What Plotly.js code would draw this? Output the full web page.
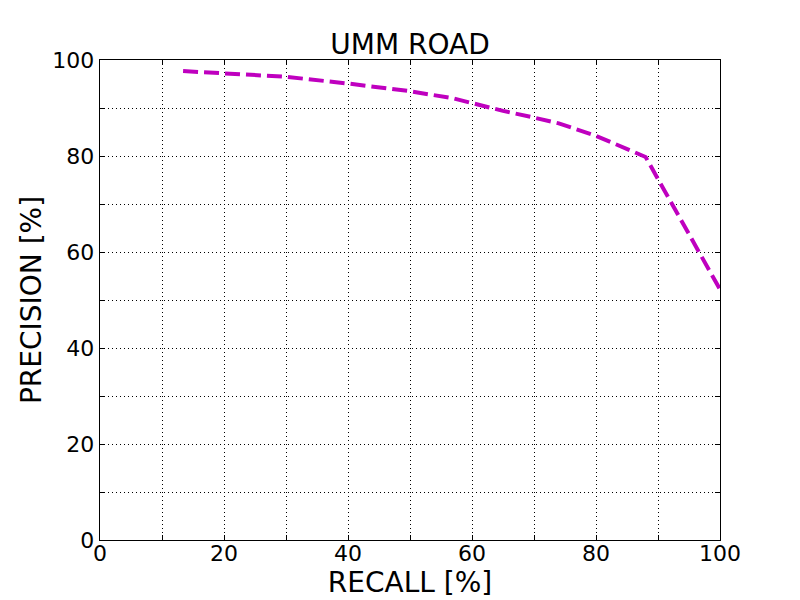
<!DOCTYPE html>
<html>
<head>
<meta charset="utf-8">
<script src="https://cdn.plot.ly/plotly-3.0.1.min.js"></script>
<style>html,body{margin:0;padding:0;background:#fff;}#chart{width:800px;height:600px;}</style>
</head>
<body>
<div id="chart"></div>
<script>
const recall = [13.4, 20, 30, 40, 50, 57, 60, 65, 70, 74, 80, 83, 88, 100];
const precision = [97.7, 97.3, 96.5, 95.1, 93.5, 92.0, 91.0, 89.4, 88.0, 86.8, 84.2, 82.6, 79.8, 52.2];
const tickVals = [0, 10, 20, 30, 40, 50, 60, 70, 80, 90, 100];
const tickText = ["0", "", "20", "", "40", "", "60", "", "80", "", "100"];

const font = {family: "DejaVu Sans, sans-serif", color: "#000"};
const axisCommon = {
  range: [0, 100],
  tickmode: "array",
  tickvals: tickVals,
  ticktext: tickText,
  ticks: "inside",
  ticklen: 5,
  tickcolor: "#000",
  showline: true,
  linecolor: "#000",
  linewidth: 1.3,
  mirror: "ticks",
  showgrid: true,
  gridcolor: "#000",
  gridwidth: 1,
  griddash: "1px,3px",
  zeroline: false,
  tickfont: {family: font.family, size: 22, color: "#000"}
};

Plotly.newPlot("chart", [{
  x: recall,
  y: precision,
  mode: "lines",
  line: {color: "#bf00bf", width: 4, dash: "15px,6px"},
  hoverinfo: "skip"
}], {
  width: 800,
  height: 600,
  margin: {l: 100, r: 80, t: 60, b: 60},
  paper_bgcolor: "#fff",
  plot_bgcolor: "#fff",
  showlegend: false,
  title: {text: "UMM ROAD", font: {family: font.family, size: 28, color: "#000"}, x: 0.5125, xanchor: "center", y: 0.927, yanchor: "middle"},
  xaxis: Object.assign({}, axisCommon, {ticklabelstandoff: -7, title: {text: "RECALL [%]", font: {family: font.family, size: 28, color: "#000"}, standoff: 2}}),
  yaxis: Object.assign({}, axisCommon, {title: {text: "PRECISION [%]", font: {family: font.family, size: 28, color: "#000"}, standoff: 2}})
}, {staticPlot: true, displayModeBar: false});
</script>
</body>
</html>
